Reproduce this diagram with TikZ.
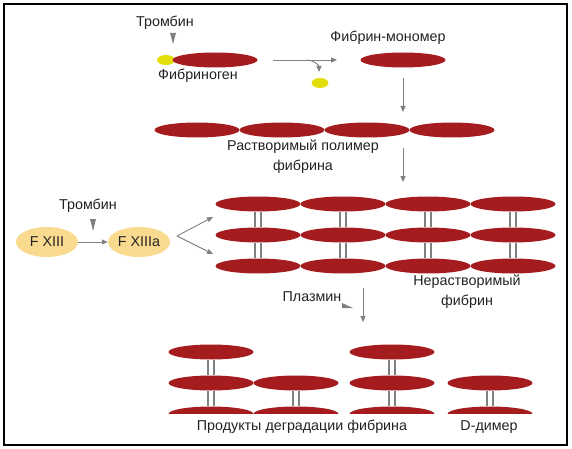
\documentclass[tikz,border=0pt]{standalone}
\usepackage{fontspec}
\setmainfont{Liberation Sans}
\usetikzlibrary{shapes.geometric,arrows.meta}

\begin{document}
\begin{tikzpicture}[x=1pt,y=-1pt]
\tikzstyle{fib}=[ellipse,fill=fibred,inner sep=0pt,minimum width=85pt,minimum height=15pt]
\tikzstyle{yel}=[ellipse,fill=fibyel,inner sep=0pt,minimum width=17pt,minimum height=10pt]
\tikzstyle{fac}=[ellipse,fill=facyel,inner sep=0pt,minimum width=62pt,minimum height=30pt,text=txtgray,font=\fontsize{14.3}{16}\selectfont]
\tikzstyle{lbl}=[align=center,inner sep=0pt,text=txtgray,font=\fontsize{14.3}{20}\selectfont]
\tikzstyle{arr}=[draw=arrgray,line width=0.9pt,-{Triangle[length=6pt,width=5pt]}]
\tikzstyle{bar}=[draw=arrgray,line width=1.8pt]
\tikzstyle{tri}=[fill=arrgray]
\definecolor{fibred}{RGB}{165,28,30}
\definecolor{fibyel}{RGB}{228,222,10}
\definecolor{facyel}{RGB}{250,218,142}
\definecolor{arrgray}{RGB}{128,128,128}
\definecolor{txtgray}{RGB}{34,34,34}
\useasboundingbox (0,0) rectangle (572,449);
\draw[line width=1.5pt] (4,4) rectangle (567,445);
% fibrinogen -> monomer
\node [lbl] (thr1) at (165,23) {Тромбин};
\fill[tri] (170,33) -- (176,33) -- (173,44) -- cycle;
\node [yel,minimum width=18pt] (fpa1) at (166,60) {};
\node [fib] (fbg) at (215,60) {};
\node [lbl] (fbgl) at (198,76) {Фибриноген};
\coordinate (c1a) at (273,60);
\coordinate (c1b) at (337,60);
\draw[arr] (c1a) -- (c1b);
\coordinate (c1c) at (307,60);
\coordinate (c1d) at (319,72);
\draw[arr] (c1c) to[out=0,in=90] (c1d);
\node [yel] (fpa2) at (320,83) {};
\node [lbl] (monol) at (388,38) {Фибрин-мономер};
\node [fib] (mono) at (403,60) {};
\coordinate (c2a) at (403,78);
\coordinate (c2b) at (403,112);
\draw[arr] (c2a) -- (c2b);
% soluble polymer
\node [fib] (p1) at (197,130) {};
\node [fib] (p2) at (282,130) {};
\node [fib] (p3) at (367,130) {};
\node [fib] (p4) at (452,130) {};
\node [lbl] (polyl) at (303,157) {Растворимый полимер\\фибрина};
\coordinate (c3a) at (403,148);
\coordinate (c3b) at (403,182);
\draw[arr] (c3a) -- (c3b);
% F XIII
\node [lbl] (thr2) at (88,206) {Тромбин};
\fill[tri] (90,219) -- (96,219) -- (93,231) -- cycle;
\node [fac] (f13) at (47,242) {F XIII};
\node [fac] (f13a) at (139,242) {F XIIIa};
\draw[arr] (f13) -- (f13a);
\coordinate (c4a) at (177,236);
\coordinate (c4b) at (213,217);
\coordinate (c4c) at (213,254);
\draw[arr] (c4a) -- (c4b);
\draw[arr] (c4a) -- (c4c);
% insoluble fibrin
\node [fib] (i11) at (258,204) {};
\node [fib] (i12) at (343,204) {};
\node [fib] (i13) at (428,204) {};
\node [fib] (i14) at (513,204) {};
\node [fib] (i21) at (258,235) {};
\node [fib] (i22) at (343,235) {};
\node [fib] (i23) at (428,235) {};
\node [fib] (i24) at (513,235) {};
\node [fib] (i31) at (258,266) {};
\node [fib] (i32) at (343,266) {};
\node [fib] (i33) at (428,266) {};
\node [fib] (i34) at (513,266) {};
\draw[bar] ([xshift=-3pt]i11.south) -- ([xshift=-3pt]i21.north);
\draw[bar] ([xshift=3pt]i11.south) -- ([xshift=3pt]i21.north);
\draw[bar] ([xshift=-3pt]i12.south) -- ([xshift=-3pt]i22.north);
\draw[bar] ([xshift=3pt]i12.south) -- ([xshift=3pt]i22.north);
\draw[bar] ([xshift=-3pt]i13.south) -- ([xshift=-3pt]i23.north);
\draw[bar] ([xshift=3pt]i13.south) -- ([xshift=3pt]i23.north);
\draw[bar] ([xshift=-3pt]i14.south) -- ([xshift=-3pt]i24.north);
\draw[bar] ([xshift=3pt]i14.south) -- ([xshift=3pt]i24.north);
\draw[bar] ([xshift=-3pt]i21.south) -- ([xshift=-3pt]i31.north);
\draw[bar] ([xshift=3pt]i21.south) -- ([xshift=3pt]i31.north);
\draw[bar] ([xshift=-3pt]i22.south) -- ([xshift=-3pt]i32.north);
\draw[bar] ([xshift=3pt]i22.south) -- ([xshift=3pt]i32.north);
\draw[bar] ([xshift=-3pt]i23.south) -- ([xshift=-3pt]i33.north);
\draw[bar] ([xshift=3pt]i23.south) -- ([xshift=3pt]i33.north);
\draw[bar] ([xshift=-3pt]i24.south) -- ([xshift=-3pt]i34.north);
\draw[bar] ([xshift=3pt]i24.south) -- ([xshift=3pt]i34.north);
\node [lbl] (insl) at (467,292) {Нерастворимый\\фибрин};
% plasmin
\node [lbl] (plasl) at (312,297) {Плазмин};
\fill[tri] (342,303) -- (342,308) -- (353,308) -- cycle;
\coordinate (c5a) at (363,288);
\coordinate (c5b) at (363,322);
\draw[arr] (c5a) -- (c5b);
% degradation products
\begin{scope}
\clip (150,330) rectangle (545,413);
\node [fib] (d11) at (211,352) {};
\node [fib] (d21) at (211,383) {};
\node [fib] (d31) at (211,414) {};
\node [fib] (d22) at (296,383) {};
\node [fib] (d32) at (296,414) {};
\node [fib] (d13) at (392,352) {};
\node [fib] (d23) at (392,383) {};
\node [fib] (d33) at (392,414) {};
\node [fib] (d24) at (490,383) {};
\node [fib] (d34) at (490,414) {};
\draw[bar] ([xshift=-3pt]d11.south) -- ([xshift=-3pt]d21.north);
\draw[bar] ([xshift=3pt]d11.south) -- ([xshift=3pt]d21.north);
\draw[bar] ([xshift=-3pt]d21.south) -- ([xshift=-3pt]d31.north);
\draw[bar] ([xshift=3pt]d21.south) -- ([xshift=3pt]d31.north);
\draw[bar] ([xshift=-3pt]d22.south) -- ([xshift=-3pt]d32.north);
\draw[bar] ([xshift=3pt]d22.south) -- ([xshift=3pt]d32.north);
\draw[bar] ([xshift=-3pt]d13.south) -- ([xshift=-3pt]d23.north);
\draw[bar] ([xshift=3pt]d13.south) -- ([xshift=3pt]d23.north);
\draw[bar] ([xshift=-3pt]d23.south) -- ([xshift=-3pt]d33.north);
\draw[bar] ([xshift=3pt]d23.south) -- ([xshift=3pt]d33.north);
\draw[bar] ([xshift=-3pt]d24.south) -- ([xshift=-3pt]d34.north);
\draw[bar] ([xshift=3pt]d24.south) -- ([xshift=3pt]d34.north);
\end{scope}
\node [lbl] (fdpl) at (302,427) {Продукты деградации фибрина};
\node [lbl] (ddl) at (489,427) {D-димер};
\end{tikzpicture}
\end{document}
